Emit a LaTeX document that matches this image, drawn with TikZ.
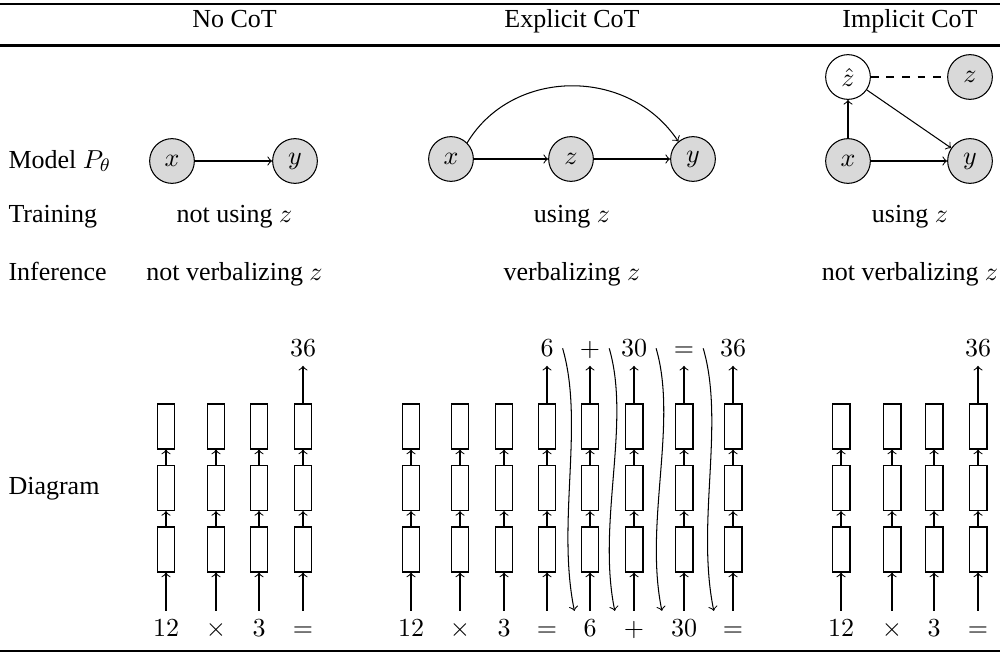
\documentclass[tikz,border=0pt]{standalone}
\usepackage[no-math]{fontspec}
\setmainfont{Liberation Serif}
\usetikzlibrary{calc}
\tikzset{
  var/.style={circle, draw, fill=gray!30, minimum size=17.2pt, inner sep=1pt},
  hid/.style={circle, draw, fill=white, minimum size=17.2pt, inner sep=1pt},
  blk/.style={draw, minimum width=6.9pt, minimum height=17.3pt, inner sep=0pt},
  tok/.style={anchor=base, inner sep=3.3pt, text height=6.44pt, text depth=0pt},
  lab/.style={anchor=base west, inner sep=0pt},
  cell/.style={anchor=base, inner sep=0pt},
  rule/.style={line width=0.8pt},
}
\begin{document}
\begin{tikzpicture}[x=0.3846pt, y=-0.3846pt]
\useasboundingbox (0,0) rectangle (1000,652);
% rules
\draw[rule] (0,4) -- (1000,4);
\draw[rule] (0,45.5) -- (1000,45.5);
\draw[rule] (0,651) -- (1000,651);
% headers
\node[cell] (h1) at (234.5,27.3) {No CoT};
\node[cell] (h2) at (572,27.3) {Explicit CoT};
\node[cell] (h3) at (910,27.3) {Implicit CoT};
% row labels
\node[lab] (r1) at (8,168) {Model $P_\theta$};
\node[lab] (r2) at (8,222) {Training};
\node[lab] (r3) at (8,280) {Inference};
\node[lab] (r4) at (8,494) {Diagram};
% training / inference cells
\node[cell] (t1) at (234.5,222) {not using $z$};
\node[cell] (t2) at (572,222) {using $z$};
\node[cell] (t3) at (910,222) {using $z$};
\node[cell] (i1) at (234.5,280) {not verbalizing $z$};
\node[cell] (i2) at (572,280) {verbalizing $z$};
\node[cell] (i3) at (910,280) {not verbalizing $z$};
% model graphs
\node[var] (nx) at (172,161) {$x$};
\node[var] (ny) at (295,161) {$y$};
\draw[->] (nx) -- (ny);
\node[var] (ex) at (451,159) {$x$};
\node[var] (ez) at (571,159) {$z$};
\node[var] (ey) at (693,159) {$y$};
\draw[->] (ex) -- (ez);
\draw[->] (ez) -- (ey);
\draw[->] (ex.45) .. controls +(45,-75) and +(-50,-75) .. (ey.130);
\node[hid] (izh) at (848,77) {$\hat{z}$};
\node[var] (iz) at (970,77) {$z$};
\node[var] (ix) at (848,161) {$x$};
\node[var] (iy) at (970,161) {$y$};
\draw[->] (ix) -- (izh);
\draw[->] (ix) -- (iy);
\draw[->] (izh) -- (iy);
\draw[dashed] (izh) -- (iz);
% diagram columns
\foreach \nm/\xx/\bt in {a1/166/12, a2/216/\times, a3/259/3, a4/303/=,
  b1/411/12, b2/460/\times, b3/504/3, b4/547/=, b5/590/6, b6/634/+, b7/684/30, b8/733/=,
  c1/841/12, c2/892/\times, c3/934/3, c4/978/=} {
  \node[tok] (\nm b) at (\xx,636.7) {$\bt$};
  \node[blk] (\nm1) at (\xx,549.5) {};
  \node[blk] (\nm2) at (\xx,488) {};
  \node[blk] (\nm3) at (\xx,426.5) {};
  \draw[->] (\nm b) -- (\nm1);
  \draw[->] (\nm1) -- (\nm2);
  \draw[->] (\nm2) -- (\nm3);
}
\foreach \nm/\xx/\tt in {a4/303/36, b4/547/6, b5/590/+, b6/634/30, b7/684/=, b8/733/36, c4/978/36} {
  \node[tok] (\nm t) at (\xx,356.7) {$\tt$};
  \draw[->] (\nm3) -- (\nm t);
}
% feedback arrows
\foreach \s/\e in {b4/b5, b5/b6, b6/b7, b7/b8} {
  \draw[->] (\s t.east) .. controls +(22,75) and +(-18,-88) .. (\e b.north west);
}
\end{tikzpicture}
\end{document}
